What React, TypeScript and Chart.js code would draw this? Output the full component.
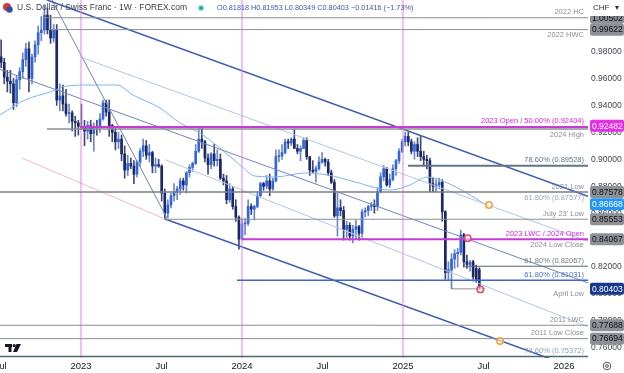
import React, { useEffect, useRef } from 'react';
import { Chart, registerables } from 'chart.js';
Chart.register(...registerables);

// ---------- DATA ----------
const FIRST_WEEK_UTC = Date.UTC(2022, 5, 27); // weekly candles, Monday of first week
const opens = [
  0.9590, 0.9760, 0.9720, 0.9610, 0.9580, 0.9560, 0.9420, 0.9590, 0.9650, 0.9740,
  0.9820, 0.9600, 0.9760, 0.9850, 0.9940, 0.9960, 1.0070, 0.9960, 0.9900, 0.9960,
  0.9440, 0.9470, 0.9410, 0.9340, 0.9345, 0.9280, 0.9270, 0.9245, 0.9230, 0.9210,
  0.9250, 0.9190, 0.9240, 0.9235, 0.9300, 0.9420, 0.9350, 0.9250, 0.9200, 0.9130,
  0.9150, 0.9040, 0.8920, 0.8970, 0.8950, 0.8890, 0.8980, 0.9060, 0.9100, 0.9030,
  0.9050, 0.8950, 0.8960, 0.8950, 0.8750, 0.8600, 0.8660, 0.8730, 0.8760, 0.8780,
  0.8840, 0.8810, 0.8900, 0.8940, 0.8970, 0.9060, 0.9150, 0.9130, 0.9010, 0.8960,
  0.9040, 0.8990, 0.9000, 0.8860, 0.8840, 0.8700, 0.8780, 0.8650, 0.8570, 0.8407,
  0.8520, 0.8525, 0.8650, 0.8630, 0.8650, 0.8730, 0.8820, 0.8800, 0.8840, 0.8780,
  0.8840, 0.9020, 0.9025, 0.9050, 0.9130, 0.9120, 0.9150, 0.9080, 0.9060, 0.9080,
  0.9140, 0.9020, 0.8920, 0.8910, 0.8930, 0.8980, 0.9000, 0.8980, 0.8900, 0.8830,
  0.8580, 0.8640, 0.8620, 0.8480, 0.8510, 0.8430, 0.8480, 0.8500, 0.8450, 0.8610,
  0.8620, 0.8650, 0.8660, 0.8650, 0.8760, 0.8870, 0.8930, 0.8810, 0.8850, 0.8930,
  0.8990, 0.9060, 0.9130, 0.9170, 0.9130, 0.9060, 0.9110, 0.9060, 0.9020, 0.9000,
  0.8990, 0.8820, 0.8800, 0.8810, 0.8830, 0.8610, 0.8160, 0.8180, 0.8260, 0.8300,
  0.8310, 0.8440, 0.8240, 0.8220, 0.8240, 0.8190, 0.81818,
];
const highs = [
  0.9780, 0.9886, 0.9750, 0.9660, 0.9660, 0.9600, 0.9620, 0.9680, 0.9790, 0.9860,
  0.9870, 0.9780, 0.9880, 0.9990, 1.0060, 1.0148, 1.0120, 1.0070, 1.0000, 1.0000,
  0.9560, 0.9550, 0.9520, 0.9410, 0.9360, 0.9320, 0.9290, 0.9410, 0.9290, 0.9280,
  0.9290, 0.9270, 0.9290, 0.9340, 0.9440, 0.9440, 0.9440, 0.9260, 0.9240, 0.9200,
  0.9180, 0.9100, 0.9030, 0.9010, 0.8990, 0.8990, 0.9080, 0.9150, 0.9140, 0.9110,
  0.9060, 0.9010, 0.9000, 0.8960, 0.8780, 0.8700, 0.8750, 0.8820, 0.8800, 0.8860,
  0.8860, 0.8910, 0.8960, 0.8980, 0.9110, 0.9230, 0.9244, 0.9140, 0.9040, 0.9050,
  0.9110, 0.9070, 0.9040, 0.8890, 0.8880, 0.8820, 0.8800, 0.8700, 0.8580, 0.8560,
  0.8560, 0.8700, 0.8670, 0.8660, 0.8760, 0.8830, 0.8830, 0.8880, 0.8890, 0.8860,
  0.9070, 0.9070, 0.9110, 0.9150, 0.9150, 0.9160, 0.9224, 0.9110, 0.9100, 0.9160,
  0.9160, 0.9020, 0.8990, 0.8950, 0.9020, 0.9050, 0.9010, 0.9000, 0.8920, 0.8850,
  0.8750, 0.8700, 0.8650, 0.8540, 0.8530, 0.8510, 0.8550, 0.8510, 0.8630, 0.8640,
  0.8660, 0.8680, 0.8700, 0.8790, 0.8900, 0.8955, 0.8940, 0.8890, 0.8960, 0.9000,
  0.9080, 0.9150, 0.9200, 0.9200, 0.9150, 0.9130, 0.9160, 0.9170, 0.9060, 0.9030,
  0.9010, 0.8860, 0.8850, 0.8860, 0.8850, 0.8620, 0.8240, 0.8300, 0.8330, 0.8340,
  0.8475, 0.8450, 0.8290, 0.8250, 0.8250, 0.8215, 0.81953,
];
const lows = [
  0.9550, 0.9680, 0.9560, 0.9500, 0.9490, 0.9370, 0.9390, 0.9520, 0.9600, 0.9690,
  0.9500, 0.9560, 0.9720, 0.9780, 0.9880, 0.9930, 0.9930, 0.9860, 0.9870, 0.9400,
  0.9360, 0.9360, 0.9320, 0.9270, 0.9210, 0.9170, 0.9180, 0.9220, 0.9100, 0.9150,
  0.9130, 0.9060, 0.9180, 0.9200, 0.9290, 0.9320, 0.9170, 0.9130, 0.9070, 0.9080,
  0.8990, 0.8860, 0.8880, 0.8930, 0.8820, 0.8870, 0.8950, 0.9020, 0.9000, 0.8980,
  0.8900, 0.8900, 0.8940, 0.8690, 0.8555, 0.8565, 0.8640, 0.8690, 0.8700, 0.8740,
  0.8770, 0.8750, 0.8870, 0.8910, 0.8960, 0.9050, 0.9080, 0.8980, 0.8890, 0.8930,
  0.8950, 0.8950, 0.8850, 0.8810, 0.8670, 0.8680, 0.8630, 0.8540, 0.8333, 0.8400,
  0.8440, 0.8510, 0.8590, 0.8550, 0.8640, 0.8720, 0.8770, 0.8780, 0.8730, 0.8770,
  0.8830, 0.8980, 0.9000, 0.9040, 0.9080, 0.9100, 0.9090, 0.9040, 0.8990, 0.9080,
  0.9000, 0.8880, 0.8900, 0.8830, 0.8920, 0.8970, 0.8950, 0.8880, 0.8820, 0.8570,
  0.8430, 0.8580, 0.8400, 0.8420, 0.8400, 0.8380, 0.8410, 0.8400, 0.8420, 0.8570,
  0.8580, 0.8620, 0.8600, 0.8620, 0.8750, 0.8840, 0.8800, 0.8790, 0.8840, 0.8880,
  0.8970, 0.9050, 0.9100, 0.9100, 0.9040, 0.9000, 0.9020, 0.8990, 0.8960, 0.8930,
  0.8760, 0.8760, 0.8760, 0.8780, 0.8540, 0.8110, 0.8100, 0.8039, 0.8190, 0.8200,
  0.8290, 0.8200, 0.8190, 0.8170, 0.8110, 0.8085, 0.80349,
];
const closes = [
  0.9760, 0.9720, 0.9610, 0.9580, 0.9560, 0.9420, 0.9590, 0.9650, 0.9740, 0.9820,
  0.9600, 0.9760, 0.9850, 0.9940, 0.9960, 1.0070, 0.9960, 0.9900, 0.9960, 0.9440,
  0.9470, 0.9410, 0.9340, 0.9345, 0.9280, 0.9270, 0.9245, 0.9230, 0.9210, 0.9250,
  0.9190, 0.9240, 0.9235, 0.9300, 0.9420, 0.9350, 0.9250, 0.9200, 0.9130, 0.9150,
  0.9040, 0.8920, 0.8970, 0.8950, 0.8890, 0.8980, 0.9060, 0.9100, 0.9030, 0.9050,
  0.8950, 0.8960, 0.8950, 0.8750, 0.8600, 0.8660, 0.8730, 0.8760, 0.8780, 0.8840,
  0.8810, 0.8900, 0.8940, 0.8970, 0.9060, 0.9150, 0.9130, 0.9010, 0.8960, 0.9040,
  0.8990, 0.9000, 0.8860, 0.8840, 0.8700, 0.8780, 0.8650, 0.8570, 0.8407, 0.8520,
  0.8525, 0.8650, 0.8630, 0.8650, 0.8730, 0.8820, 0.8800, 0.8840, 0.8780, 0.8840,
  0.9020, 0.9025, 0.9050, 0.9130, 0.9120, 0.9150, 0.9080, 0.9060, 0.9080, 0.9140,
  0.9020, 0.8920, 0.8910, 0.8930, 0.8980, 0.9000, 0.8980, 0.8900, 0.8830, 0.8580,
  0.8640, 0.8620, 0.8480, 0.8510, 0.8430, 0.8480, 0.8500, 0.8450, 0.8610, 0.8620,
  0.8650, 0.8660, 0.8650, 0.8760, 0.8870, 0.8930, 0.8810, 0.8850, 0.8930, 0.8990,
  0.9060, 0.9130, 0.9170, 0.9130, 0.9060, 0.9110, 0.9060, 0.9020, 0.9000, 0.8990,
  0.8820, 0.8800, 0.8810, 0.8830, 0.8610, 0.8160, 0.8180, 0.8260, 0.8300, 0.8310,
  0.8440, 0.8240, 0.8220, 0.8235, 0.8130, 0.8110, 0.80403,
];

// 50-week moving average: [decimal year, price]
const maPoints = [
  [2022.497, 0.93288], [2022.652, 0.94401], [2022.808, 0.94995], [2022.913, 0.9544],
  [2023.056, 0.95514], [2023.224, 0.95514], [2023.323, 0.94772], [2023.491, 0.93807],
  [2023.615, 0.92694], [2023.739, 0.91952], [2023.863, 0.90839], [2023.988, 0.89578],
  [2024.081, 0.88762], [2024.205, 0.88688], [2024.391, 0.88984], [2024.534, 0.88836],
  [2024.702, 0.88317], [2024.919, 0.87723], [2025.043, 0.88094], [2025.155, 0.88688],
  [2025.261, 0.88317], [2025.385, 0.87575], [2025.509, 0.86668],
];

// Channel / trend lines: anchors [decimal year, price]
const upperChannel = [[2022.789, 1.01821], [2026.149, 0.87248]];
const quarterLine1 = [[2023.013, 0.97517], [2026.149, 0.83917]];
const medianLine = [[2022.497, 0.96672], [2026.149, 0.8083]];
const quarterLine3 = [[2023.522, 0.89977], [2026.149, 0.7758]];
const lowerChannel = [[2023.522, 0.85571], [2026.149, 0.74182]];
const pinkLine = [[2022.634, 0.90097], [2023.522, 0.85571]];
const steepLine = [[2022.82, 1.01821], [2023.534, 0.85645]];

// Year separators
const yearMarks = [2023, 2024, 2025];

// Horizontal levels
const levelNames = [
  '2022 HC', '2022 HWC', '2024 High', '2023 Open / 50.00% (0.92404)', '78.60% (0.89528)',
  '2021 Low', '61.80% (0.87577)', "July 23' Low", '2023 LWC / 2024 Open', '2024 Low Close',
  '61.80% (0.82067)', '61.80% (0.81031)', 'April Low', '2011 LWC', '2011 Low Close', '78.60% (0.75372)',
];
const levelPrices = [
  1.00502, 0.99622, 0.92244, 0.92404, 0.89528, 0.87578, 0.87577, 0.85553, 0.84067, 0.8405,
  0.82067, 0.81031, 0.80389, 0.77688, 0.76694, 0.75372,
];
const levelStarts = [
  2022.764, 2022.808, 2022.789, 2023.0, 2025.031, 2022.497, null, 2023.528, 2024.0, 2024.6,
  2025.385, 2023.969, 2025.304, 2022.497, 2022.497, 2022.497,
];
const levelEnds = [
  2026.149, 2026.149, 2026.149, 2026.149, 2026.149, 2026.149, null, 2026.149, 2026.149, 2026.149,
  2026.149, 2026.149, 2025.509, 2026.149, 2026.149, 2026.149,
];

// Price-axis tags
const tagValues = [1.00502, 0.99622, 0.92482, 0.87578, 0.86668, 0.85553, 0.84067, 0.80403, 0.77688, 0.76694];

// Markers [decimal year, price]
const markerPoints = [[2025.534, 0.8661], [2025.603, 0.76519], [2025.402, 0.84139], [2025.48, 0.80349]];

const headerTitle = 'U.S. Dollar / Swiss Franc · 1W · FOREX.com';
const headerOHLC = 'O0.81818 H0.81953 L0.80349 C0.80403 −0.01416 (−1.73%)';

// ---------- STYLES ----------
const X_MIN = 2022.497;
const X_MAX = 2026.149;
const Y_MIN = 0.75258;
const Y_MAX = 1.01821;
const FONT = '"Liberation Sans", Arial, sans-serif';
const UP = '#2f66dc';
const DOWN = '#1c2866';
const UP_WICK = '#6e86c8';
const DOWN_WICK = '#3e4878';
const GRAY = '#8b8e96';
const MAGENTA_LINE = '#c63bd5';
const MAGENTA_TEXT = '#e026e0';

const levelLineColors = [GRAY, GRAY, GRAY, MAGENTA_LINE, '#607585', '#7c7f87', '#97a6c4', GRAY, MAGENTA_LINE, GRAY,
  '#56646e', '#3e63c9', GRAY, GRAY, GRAY, '#4d6670'];
const levelLineWidths = [1, 1, 1.5, 2, 2, 1.5, 1, 1, 2, 1, 1, 1.5, 1, 1, 1, 1.5];
const levelTextColors = [GRAY, GRAY, GRAY, MAGENTA_TEXT, '#5f7486', GRAY, '#94a5c6', GRAY, MAGENTA_TEXT, GRAY,
  '#6f7a84', '#4a70d4', GRAY, GRAY, GRAY, '#8fa3c8'];
const levelBelow = [false, true, true, false, false, false, true, false, false, true, false, false, true, false, false, false];

const tagBg = ['#8d9097', '#8d9097', '#e62ee6', '#8d9097', '#2196f3', '#8d9097', '#8d9097', '#17398a', '#8d9097', '#8d9097'];
const tagFg = ['#111', '#111', '#fff', '#111', '#fff', '#111', '#111', '#fff', '#111', '#111'];
const markerColors = ['#f5a030', '#f5a030', '#e4486c', '#e4486c'];

const toDecYear = (ms: number) => {
  const d = new Date(ms);
  const y = d.getUTCFullYear();
  const s = Date.UTC(y, 0, 1);
  const e = Date.UTC(y + 1, 0, 1);
  return y + (ms - s) / (e - s);
};

const lineDs = (pts: number[][], color: string, width: number, order = 1, extra: any = {}) => ({
  type: 'line',
  data: pts.map(([x, y]) => ({ x, y })),
  borderColor: color,
  borderWidth: width,
  pointRadius: 0,
  pointHoverRadius: 0,
  fill: false,
  tension: 0,
  order,
  ...extra,
});

const overlayPlugin = {
  id: 'overlay',
  afterDraw(chart: any) {
    const { ctx, chartArea: a, scales } = chart;
    const ys = scales.y;
    const W = chart.width;
    ctx.save();

    // level labels
    ctx.font = `7.5px ${FONT}`;
    ctx.textAlign = 'right';
    ctx.textBaseline = 'middle';
    levelNames.forEach((name, i) => {
      const y = ys.getPixelForValue(levelPrices[i]) + (levelBelow[i] ? 5.5 : -5.5);
      ctx.fillStyle = levelTextColors[i];
      ctx.fillText(name, a.right - 4, y);
    });

    // price tags
    ctx.font = `8.5px ${FONT}`;
    ctx.textAlign = 'left';
    tagValues.forEach((v, i) => {
      const y = ys.getPixelForValue(v);
      ctx.fillStyle = tagBg[i];
      ctx.beginPath();
      (ctx as any).roundRect ? (ctx as any).roundRect(a.right + 2, y - 6, W - a.right - 2, 12, 2) : ctx.rect(a.right + 2, y - 6, W - a.right - 2, 12);
      ctx.fill();
      ctx.fillStyle = tagFg[i];
      ctx.fillText(v.toFixed(5), a.right + 4, y + 0.5);
    });

    // currency header on the price axis
    ctx.fillStyle = '#fff';
    ctx.fillRect(a.right, 0, W - a.right, 16);
    ctx.fillStyle = '#333';
    ctx.font = `8px ${FONT}`;
    ctx.fillText('CHF', a.right + 5, 8);
    ctx.fillText('▾', a.right + 27, 8);

    // title header
    ctx.fillStyle = '#d63b3b';
    ctx.beginPath(); ctx.arc(7, 7, 4, 0, Math.PI * 2); ctx.fill();
    ctx.fillStyle = '#2b4fa8';
    ctx.beginPath(); ctx.arc(9.5, 9.5, 3.2, 0, Math.PI * 2); ctx.fill();
    ctx.font = `8.5px ${FONT}`;
    ctx.fillStyle = '#3c404c';
    ctx.textBaseline = 'middle';
    ctx.fillText(headerTitle, 17, 8);
    ctx.fillStyle = '#b9e8dd';
    ctx.beginPath(); ctx.arc(201, 8, 3.6, 0, Math.PI * 2); ctx.fill();
    ctx.fillStyle = '#26a69a';
    ctx.beginPath(); ctx.arc(201, 8, 2, 0, Math.PI * 2); ctx.fill();
    ctx.font = `7.3px ${FONT}`;
    ctx.fillStyle = '#3f57ad';
    ctx.fillText(headerOHLC, 217, 8);

    // TradingView logo
    ctx.fillStyle = '#131722';
    ctx.fillRect(5, 344, 7, 3);
    ctx.fillRect(8.5, 344, 3, 8);
    ctx.beginPath(); ctx.arc(14.2, 345.6, 1.6, 0, Math.PI * 2); ctx.fill();
    ctx.beginPath();
    ctx.moveTo(16.5, 344); ctx.lineTo(21, 344); ctx.lineTo(17, 352); ctx.lineTo(13, 352); ctx.closePath(); ctx.fill();

    // settings gear
    ctx.strokeStyle = '#555';
    ctx.lineWidth = 1;
    ctx.beginPath(); ctx.arc(607, 366, 3.8, 0, Math.PI * 2); ctx.stroke();
    ctx.beginPath(); ctx.arc(607, 366, 1.4, 0, Math.PI * 2); ctx.stroke();

    ctx.restore();
  },
};

export default function App() {
  const ref = useRef<HTMLCanvasElement>(null);

  useEffect(() => {
    const canvas = ref.current;
    if (!canvas) return;
    Chart.defaults.font.family = FONT;

    const weekX = opens.map((_, i) => toDecYear(FIRST_WEEK_UTC + i * 7 * 86400000));
    const isUp = closes.map((c, i) => c >= opens[i]);

    const datasets: any[] = [];

    datasets.push({
      type: 'line',
      data: markerPoints.map(([x, y]) => ({ x, y })),
      showLine: false,
      pointRadius: 3.2,
      pointHoverRadius: 3.2,
      pointBorderWidth: 1.5,
      pointBorderColor: markerColors,
      pointBackgroundColor: 'rgba(255,255,255,0.55)',
      order: 0,
    });

    levelPrices.forEach((p, i) => {
      const s = levelStarts[i];
      const e = levelEnds[i];
      if (s === null || e === null) return;
      datasets.push(lineDs([[s, p], [e, p]], levelLineColors[i], levelLineWidths[i], 1));
    });

    yearMarks.forEach((yr) => {
      datasets.push(lineDs([[yr, Y_MIN], [yr, Y_MAX]], '#ec7fec', 1, 1));
    });

    datasets.push(lineDs(upperChannel, '#3f5bb0', 1.5, 1));
    datasets.push(lineDs(lowerChannel, '#3f5bb0', 1.5, 1));
    datasets.push(lineDs(medianLine, '#7186b6', 1, 1));
    datasets.push(lineDs(quarterLine1, '#b3c5e6', 1, 1));
    datasets.push(lineDs(quarterLine3, '#b3c5e6', 1, 1));
    datasets.push(lineDs(pinkLine, '#f3b8c4', 1, 1));
    datasets.push(lineDs(steepLine, '#6f84b8', 1, 1));

    datasets.push(lineDs(maPoints, '#7fb6ea', 1, 1, { tension: 0.4, cubicInterpolationMode: 'monotone' }));

    datasets.push({
      type: 'bar',
      data: weekX.map((x, i) => ({ x, y: [opens[i], closes[i]] })),
      backgroundColor: isUp.map((u) => (u ? UP : DOWN)),
      borderWidth: 0,
      grouped: false,
      barPercentage: 1,
      categoryPercentage: 1,
      maxBarThickness: 2,
      minBarLength: 1,
      order: 2,
    });
    datasets.push({
      type: 'bar',
      data: weekX.map((x, i) => ({ x, y: [lows[i], highs[i]] })),
      backgroundColor: isUp.map((u) => (u ? UP_WICK : DOWN_WICK)),
      borderWidth: 0,
      grouped: false,
      barPercentage: 1,
      categoryPercentage: 1,
      maxBarThickness: 1,
      order: 3,
    });

    const chart = new Chart(canvas, {
      type: 'line',
      data: { datasets },
      options: {
        animation: false,
        responsive: false,
        devicePixelRatio: 1,
        events: [],
        layout: { padding: 0, autoPadding: false },
        plugins: { legend: { display: false }, tooltip: { enabled: false } },
        scales: {
          x: {
            type: 'linear',
            min: X_MIN,
            max: X_MAX,
            offset: false,
            grid: { display: false, drawTicks: false },
            border: { display: false },
            ticks: {
              stepSize: 0.5,
              includeBounds: false,
              autoSkip: false,
              maxRotation: 0,
              maxTicksLimit: 100,
              padding: 3,
              color: '#131722',
              font: { size: 9.5, family: FONT },
              callback: (v: any) => (Number.isInteger(v) ? String(v) : 'Jul'),
            },
            afterFit: (s: any) => {
              s.height = 15;
              s.paddingLeft = 0;
              s.paddingRight = 0;
            },
          },
          y: {
            type: 'linear',
            position: 'right',
            min: Y_MIN,
            max: Y_MAX,
            grid: { display: false, drawTicks: false },
            border: { display: false },
            ticks: {
              stepSize: 0.02,
              includeBounds: false,
              maxTicksLimit: 100,
              padding: 3,
              color: '#434651',
              font: { size: 8.5, family: FONT },
              callback: (v: any) => Number(v).toFixed(5),
            },
            afterFit: (s: any) => {
              s.width = 36;
              s.paddingTop = 0;
              s.paddingBottom = 0;
            },
          },
        },
      } as any,
      plugins: [overlayPlugin as any],
    });

    return () => chart.destroy();
  }, []);

  return (
    <div style={{ position: 'fixed', left: 0, top: 0, width: 624, height: 373, background: '#fff' }}>
      <canvas ref={ref} width={624} height={373} style={{ display: 'block', width: 624, height: 373 }} />
    </div>
  );
}
